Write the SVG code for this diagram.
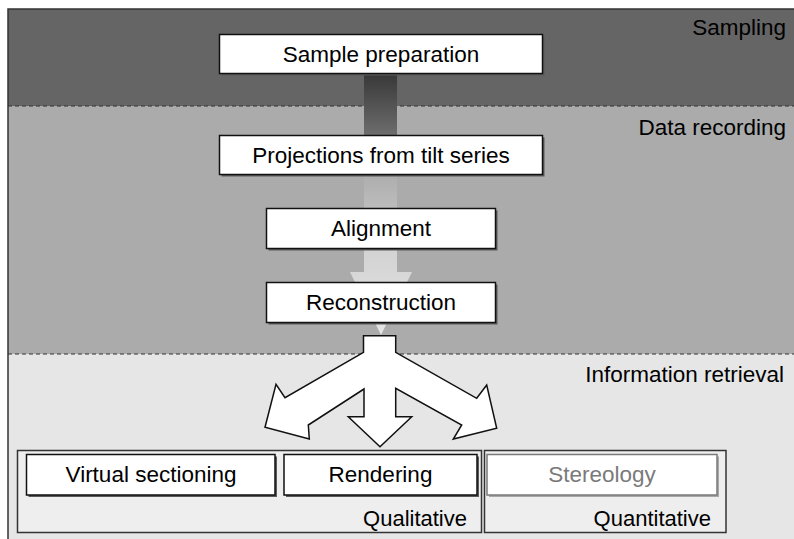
<svg xmlns="http://www.w3.org/2000/svg" width="794" height="539" viewBox="0 0 794 539">
  <defs>
    <linearGradient id="shaftGrad" gradientUnits="userSpaceOnUse" x1="0" y1="74" x2="0" y2="335">
      <stop offset="0" stop-color="#383838"/>
      <stop offset="0.22" stop-color="#6a6a6a"/>
      <stop offset="0.39" stop-color="#aeaeae"/>
      <stop offset="0.5" stop-color="#bbbbbb"/>
      <stop offset="0.68" stop-color="#d3d3d3"/>
      <stop offset="1" stop-color="#e4e4e4"/>
    </linearGradient>
  </defs>
  <style>
    text { font-family: "Liberation Sans", Arial, Helvetica, sans-serif; fill: #000; }
    .step { font-size: 22.5px; text-anchor: middle; }
    .band { font-size: 22.5px; text-anchor: end; }
    .group-label { font-size: 22px; text-anchor: end; }
    .box { fill: #ffffff; stroke: #111; stroke-width: 1.5; }
    .shadow { fill: #5a5a5a; }
    .dash { stroke: #333; stroke-width: 1.2; stroke-dasharray: 4 3; fill: none; }
    .container { fill: #eeeeee; stroke: #333; stroke-width: 1.5; }
  </style>

  <!-- Background bands -->
  <g id="bands">
    <rect x="8" y="9" width="790" height="97" fill="#656565"/>
    <rect x="8" y="106" width="790" height="248" fill="#ababab"/>
    <rect x="8" y="354" width="790" height="190" fill="#e6e6e6"/>
    <path d="M8,545 V9 H800" fill="none" stroke="#333" stroke-width="1.5"/>
    <line class="dash" x1="8" y1="106" x2="794" y2="106"/>
    <line class="dash" x1="8" y1="354" x2="794" y2="354"/>
    <text class="band" x="786" y="35">Sampling</text>
    <text class="band" x="786" y="135">Data recording</text>
    <text class="band" x="784" y="382">Information retrieval</text>
  </g>

  <!-- Connectors -->
  <g id="connectors">
    <path d="M364,74 H397 V272 H412 L381,335 L350,272 H364 Z" fill="url(#shaftGrad)"/>
    <polygon points="363.5,335.7 395.7,335.7 395.7,352.3 476.7,398.3 486.7,385 496.7,428.3 453.3,439 461.7,425 395.7,388.3 395.7,416.7 411.7,416.7 380,446.7 348.3,416.7 364,416.7 364,389 308.3,425 309.3,439 265,427.3 276,384.3 285,397.7 363.5,352.3"
             fill="#ffffff" stroke="#111" stroke-width="1.5" stroke-linejoin="miter"/>
  </g>

  <!-- Processing steps -->
  <g id="sample-preparation">
    <rect class="shadow" x="221.5" y="36.5" width="323" height="39"/>
    <rect class="box" x="219.5" y="34.5" width="323" height="39"/>
    <text class="step" x="381" y="62">Sample preparation</text>
  </g>
  <g id="projections">
    <rect class="shadow" x="221.5" y="137.5" width="323" height="39"/>
    <rect class="box" x="219.5" y="135.5" width="323" height="39"/>
    <text class="step" x="381" y="162.5">Projections from tilt series</text>
  </g>
  <g id="alignment">
    <rect class="shadow" x="268.5" y="210.5" width="229" height="40"/>
    <rect class="box" x="266.5" y="208.5" width="229" height="40"/>
    <text class="step" x="381" y="236">Alignment</text>
  </g>
  <g id="reconstruction">
    <rect class="shadow" x="268.5" y="284.5" width="229" height="40"/>
    <rect class="box" x="266.5" y="282.5" width="229" height="40"/>
    <text class="step" x="381" y="309.5">Reconstruction</text>
  </g>

  <!-- Qualitative group -->
  <g id="qualitative">
    <rect class="container" x="17.5" y="450.5" width="464" height="82"/>
    <text class="group-label" x="467" y="526">Qualitative</text>
  </g>
  <g id="virtual-sectioning">
    <rect class="shadow" x="28.5" y="456.5" width="248.5" height="40.5"/>
    <rect class="box" x="26.5" y="454.5" width="248.5" height="40.5"/>
    <text class="step" x="151" y="482">Virtual sectioning</text>
  </g>
  <g id="rendering">
    <rect class="shadow" x="286" y="456.5" width="193" height="40.5"/>
    <rect class="box" x="284" y="454.5" width="193" height="40.5"/>
    <text class="step" x="380.5" y="482">Rendering</text>
  </g>

  <!-- Quantitative group -->
  <g id="quantitative">
    <rect class="container" x="484.5" y="450.5" width="241.5" height="82"/>
    <text class="group-label" x="711" y="526">Quantitative</text>
  </g>
  <g id="stereology">
    <rect x="489" y="456.5" width="230" height="40.5" fill="#a8a8a8"/>
    <rect x="487" y="454.5" width="230" height="40.5" fill="#ffffff" stroke="#7a7a7a" stroke-width="1.5"/>
    <text class="step" x="602" y="482" style="fill:#7a7a7a">Stereology</text>
  </g>
</svg>
